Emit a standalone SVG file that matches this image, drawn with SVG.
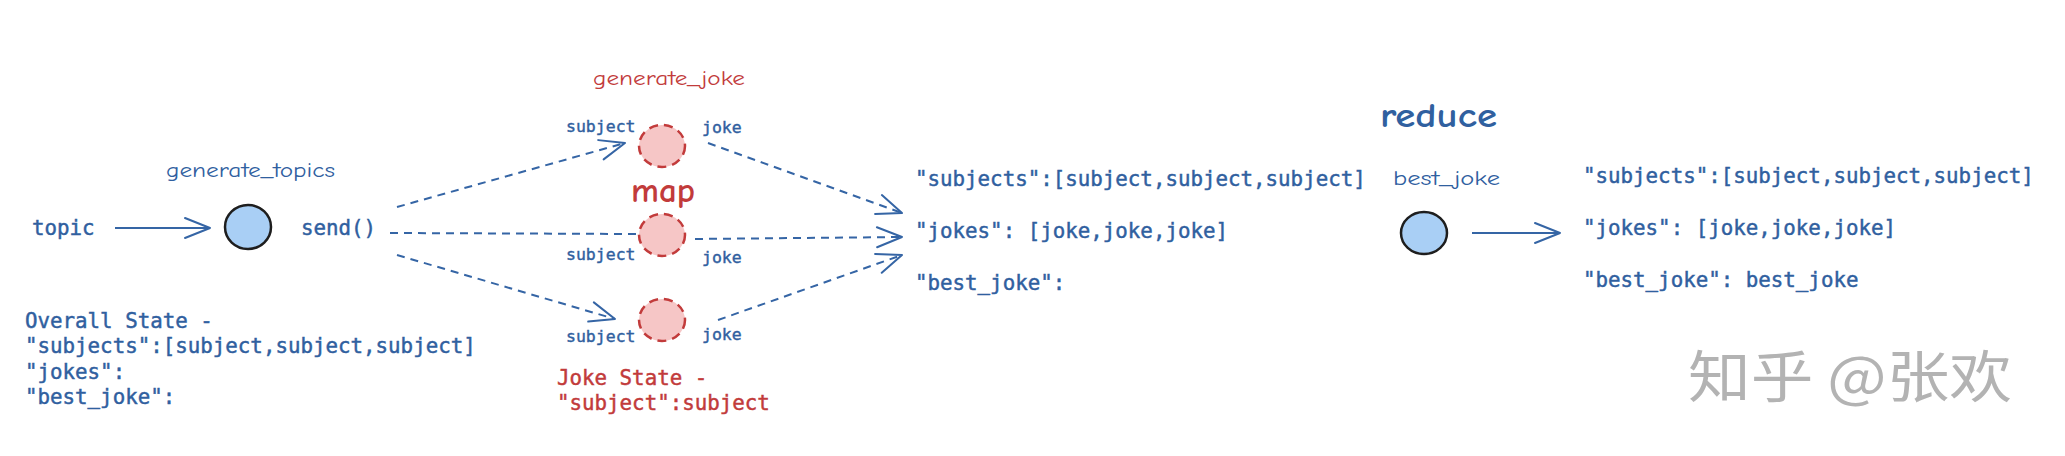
<svg xmlns="http://www.w3.org/2000/svg" width="2065" height="456" viewBox="0 0 2065 456">
<style>
.mono{font-family:"DejaVu Sans Mono","Liberation Mono",monospace;font-size:20.8px;fill:#30609f;stroke:#30609f;stroke-width:0.45;font-weight:normal}
.small{font-family:"DejaVu Sans Mono","Liberation Mono",monospace;font-size:16.5px;fill:#30609f;stroke:#30609f;stroke-width:0.4;font-weight:normal}
.red{fill:#c23b3b;stroke:#c23b3b}
.hand{font-family:"Comic Neue","Noto Sans",sans-serif;font-size:21px;fill:#30609f}
.handred{font-family:"Comic Neue","Noto Sans",sans-serif;font-size:21px;fill:#c23b3b}
.big{font-size:34px;font-weight:bold}
.blue-node{fill:#a9cff5;stroke:#1e1e1e;stroke-width:2.5}
.red-node{fill:#f6c6c6;stroke:#c23b3b;stroke-width:2.5;stroke-dasharray:9 6}
.solid{fill:none;stroke:#3565a5;stroke-width:2;marker-end:url(#arr)}
.dash{fill:none;stroke:#3565a5;stroke-width:2;stroke-dasharray:8 6}
.dasharr{fill:none;stroke:#3565a5;stroke-width:2;stroke-dasharray:8 6;marker-end:url(#arr)}
.wm{font-family:"Noto Sans CJK SC",sans-serif;font-size:56px;fill:#b3b3b3}
</style>
<defs>
<marker id="arr" viewBox="-28 -13 31 26" refX="0" refY="0" markerWidth="31" markerHeight="26" markerUnits="userSpaceOnUse" orient="auto">
<path d="M-25,-10 L0,0 L-25,10" fill="none" stroke="#3565a5" stroke-width="2" stroke-linecap="round" stroke-linejoin="round"/>
</marker>
</defs>
<rect width="2065" height="456" fill="#ffffff"/>
<g id="connectors">
<line class="solid" x1="115" y1="228" x2="210" y2="228"/>
<line class="dasharr" x1="397" y1="207" x2="625" y2="143"/>
<line class="dash" x1="390" y1="233" x2="637" y2="234"/>
<line class="dasharr" x1="397" y1="255" x2="615" y2="319"/>
<line class="dasharr" x1="708" y1="143" x2="902" y2="213"/>
<line class="dasharr" x1="695" y1="239" x2="902" y2="237"/>
<line class="dasharr" x1="718" y1="320" x2="902" y2="255"/>
<line class="solid" x1="1472" y1="233" x2="1560" y2="233"/>
</g>
<g id="topic">
<text class="mono" x="32" y="235">topic</text>
</g>
<g id="generate_topics">
<text class="hand" x="166" y="177" textLength="169" lengthAdjust="spacingAndGlyphs">generate_topics</text>
<ellipse class="blue-node" cx="248" cy="227" rx="23" ry="22"/>
<text class="mono" x="301" y="235">send()</text>
</g>
<g id="overall_state">
<text class="mono" x="25" y="328">Overall State -</text>
<text class="mono" x="25" y="353">"subjects":[subject,subject,subject]</text>
<text class="mono" x="25" y="379">"jokes":</text>
<text class="mono" x="25" y="404">"best_joke":</text>
</g>
<g id="generate_joke">
<text class="handred" x="593" y="85" textLength="152" lengthAdjust="spacingAndGlyphs">generate_joke</text>
<text class="handred big" x="631" y="202" textLength="64" lengthAdjust="spacingAndGlyphs">map</text>
<ellipse class="red-node" cx="662" cy="146" rx="23" ry="21"/>
<ellipse class="red-node" cx="662" cy="235" rx="23" ry="21"/>
<ellipse class="red-node" cx="662" cy="320" rx="23" ry="21"/>
<text class="small" x="566" y="132">subject</text>
<text class="small" x="702" y="133">joke</text>
<text class="small" x="566" y="260">subject</text>
<text class="small" x="702" y="263">joke</text>
<text class="small" x="566" y="342">subject</text>
<text class="small" x="702" y="340">joke</text>
</g>
<g id="joke_state">
<text class="mono red" x="557" y="385">Joke State -</text>
<text class="mono red" x="557" y="410">"subject":subject</text>
</g>
<g id="collected_state">
<text class="mono" x="915" y="186">"subjects":[subject,subject,subject]</text>
<text class="mono" x="915" y="238">"jokes": [joke,joke,joke]</text>
<text class="mono" x="915" y="290">"best_joke":</text>
</g>
<g id="best_joke">
<text class="hand big" x="1380" y="127" textLength="117" lengthAdjust="spacingAndGlyphs">reduce</text>
<text class="hand" x="1393" y="185" textLength="107" lengthAdjust="spacingAndGlyphs">best_joke</text>
<ellipse class="blue-node" cx="1424" cy="233" rx="23" ry="21"/>
</g>
<g id="final_state">
<text class="mono" x="1583" y="183">"subjects":[subject,subject,subject]</text>
<text class="mono" x="1583" y="235">"jokes": [joke,joke,joke]</text>
<text class="mono" x="1583" y="287">"best_joke": best_joke</text>
</g>
<g id="watermark">
<text class="wm" x="1688" y="397" textLength="324" lengthAdjust="spacingAndGlyphs">知乎 @张欢</text>
</g>
</svg>
